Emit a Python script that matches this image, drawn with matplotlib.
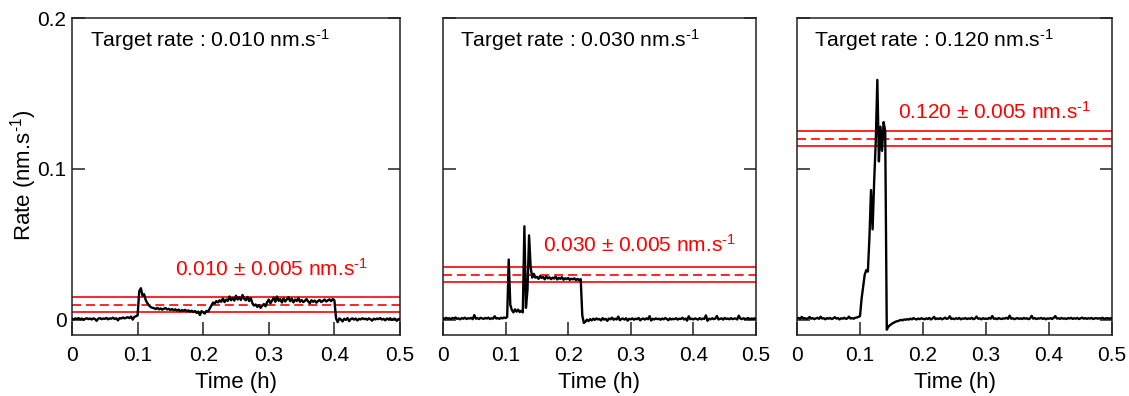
import numpy as np
import matplotlib
matplotlib.use("Agg")
import matplotlib.pyplot as plt

plt.rcParams['font.family'] = ['Liberation Sans', 'DejaVu Sans']
plt.rcParams['mathtext.fontset'] = 'custom'
plt.rcParams['mathtext.rm'] = 'Liberation Sans'
plt.rcParams['mathtext.it'] = 'Liberation Sans'
plt.rcParams['mathtext.bf'] = 'Liberation Sans:bold'
plt.rcParams['mathtext.sf'] = 'Liberation Sans'
plt.rcParams['lines.scale_dashes'] = False

# ---------------- data (rates in 1e-3 nm/s, sampled every 0.0025 h) ----------------
dt_h = 0.0025

rate1_milli = [
    0.8, 0.3, 1.0, 0.6, 1.2, 0.4, 0.9, 0.2, 0.7, 1.1,
    0.5, 0.9, 0.3, 1.0, 0.6, -0.6, 0.8, 1.2, 0.5, 0.9,
    0.7, 1.3, 0.4, 1.0, 0.8, 1.5, 0.6, 1.1, -0.3, 1.2,
    0.9, 1.6, 1.0, 1.4, 1.8, 1.2, 2.2, 0.2, 2.0, 2.4,
    3.0, 19.0, 21.0, 16.0, 17.0, 13.0, 11.0, 9.5, 8.5, 8.0,
    7.8, 7.2, 8.0, 7.0, 7.6, 6.8, 7.4, 7.9, 6.9, 7.3,
    6.6, 7.2, 6.4, 7.0, 6.2, 6.8, 5.8, 6.5, 6.0, 6.7,
    5.6, 6.3, 5.4, 6.1, 5.2, 5.9, 4.6, 5.5, 3.2, 5.8,
    5.0, 4.2, 6.0, 5.5, 7.5, 9.5, 11.5, 10.8, 12.5, 11.6,
    13.0, 12.0, 14.2, 11.8, 13.5, 12.6, 15.5, 13.0, 14.5, 12.8,
    16.0, 13.5, 15.0, 13.2, 16.5, 14.0, 13.0, 15.2, 12.5, 14.5,
    11.0, 9.5, 10.2, 8.6, 9.8, 8.0, 9.4, 10.5, 9.0, 11.8,
    13.5, 11.0, 12.8, 14.8, 12.0, 15.5, 12.6, 13.8, 11.5, 14.2,
    12.2, 13.6, 15.0, 12.4, 14.0, 11.6, 13.5, 12.5, 14.6, 12.0,
    13.2, 11.8, 12.6, 13.8, 12.2, 11.0, 13.0, 12.0, 12.8, 11.4,
    12.5, 13.2, 11.8, 12.6, 13.5, 12.2, 12.9, 13.6, 12.4, 13.8,
    13.0, 1.0, -1.5, 1.0, 0.2, -1.0, 0.8, 0.0, 1.2, -0.8,
    0.6, 1.0, 0.2, 0.9, -0.4, 0.7, 0.3, 1.1, 0.5, 0.8,
    0.1, 1.0, 0.4, -0.5, 0.8, 0.3, 0.9, 0.5, 1.2, 0.2,
    0.7, -0.3, 0.9, 0.4, 1.1, 0.0, 0.6, 0.8, -0.6, 0.5,
    0.7,
]

rate2_milli = [
    1.2, 0.6, 1.4, 0.8, 1.1, 0.5, 1.3, 0.9, 1.6, 0.7,
    1.0, 0.4, 1.2, 0.8, 1.5, 0.6, 1.1, 0.9, 1.3, 0.5,
    3.2, 0.8, 1.2, 0.6, 1.4, 1.0, 0.7, 1.3, 0.9, 1.5,
    0.6, 1.1, 0.8, 2.4, 0.9, 1.2, 0.7, 1.4, 1.0, 1.6,
    1.2, 2.0, 40.0, 10.0, 6.5, 5.0, 7.0, 5.5, 6.8, 5.2,
    6.0, 5.0, 62.0, 8.0, 20.0, 56.0, 35.0, 28.0, 30.5, 28.0,
    28.5, 27.2, 29.0, 27.8, 28.4, 26.9, 28.8, 27.5, 28.2, 27.0,
    28.0, 27.4, 28.6, 26.8, 27.9, 27.2, 28.3, 26.6, 27.6, 27.0,
    27.8, 26.5, 27.3, 26.9, 27.5, 26.4, 27.2, 26.2, 27.0, 3.0,
    -2.0, -1.2, 0.2, -0.8, 0.5, -0.3, 0.8, 0.0, 1.0, 0.3,
    0.6, -0.4, 1.2, 0.2, 0.7, -0.6, 0.9, 0.4, 1.5, 0.1,
    0.8, 0.3, 2.2, -0.2, 0.6, 0.9, 0.2, 1.1, -0.5, 0.7,
    0.4, 1.0, 0.1, 0.8, 0.5, 1.3, -0.3, 0.6, 0.9, 0.2,
    1.1, 0.4, 2.5, -0.4, 0.7, 0.3, 1.0, 0.5, 0.8, 0.1,
    0.9, 0.4, 1.2, 0.6, -0.2, 1.0, 0.3, 0.7, 0.5, 1.1,
    0.2, 0.8, 0.6, 1.4, 0.3, 0.9, -0.5, 2.4, 0.5, 0.8,
    0.3, 1.0, 0.6, 0.2, 1.2, 0.4, 0.9, 0.7, 3.0, -0.6,
    0.8, 0.4, 1.1, 0.5, 0.9, 2.6, 0.3, 0.7, 1.0, 0.2,
    1.3, 0.6, 0.9, 0.4, 1.2, 0.5, 0.8, 1.0, 0.3, 2.8,
    0.9, 0.5, 1.1, 0.6, 0.8, 1.2, 0.4, 0.9, 0.7, 1.0,
    0.6,
]

rate3_milli = [
    1.0, 1.3, 0.7, 2.0, 0.9, 1.2, 0.6, 1.1, 1.9, 0.8,
    1.2, 0.5, 1.0, 1.4, 0.7, 2.1, 0.9, 1.1, 0.4, 1.2,
    0.8, 1.3, 0.6, 1.0, 1.8, 0.9, 1.2, 0.3, 1.1, 0.8,
    1.4, 0.7, 1.0, 2.2, 0.9, 1.2, 0.8, 1.4, 1.6, 2.0,
    2.5, 14.0, 22.0, 30.0, 33.0, 32.0, 55.0, 86.0, 60.0, 92.0,
    118.0, 159.0, 105.0, 128.0, 112.0, 131.0, 125.0, -6.5, -4.5, -3.5,
    -2.8, -2.0, -1.6, -1.0, -0.8, -0.4, 0.0, -0.3, 0.3, 0.1,
    0.5, 0.2, 0.8, 0.4, 1.2, 0.6, 0.3, 0.9, 0.5, 1.1,
    0.7, 0.4, 1.0, 0.6, 1.3, 0.3, 0.9, 2.0, 0.5, 1.0,
    0.6, 1.2, 0.4, 0.8, 1.5, 0.7, 1.0, 2.4, 0.6, 0.9,
    0.5, 1.1, 0.7, 1.3, 0.4, 0.9, 0.8, 1.2, 0.6, 1.0,
    0.7, 1.4, 0.5, 0.9, 2.2, 0.8, 1.0, 0.4, 1.1, 0.7,
    0.9, 0.6, 1.3, 0.8, 2.6, 0.7, 1.0, 0.5, 1.2, 0.8,
    0.6, 1.0, 0.9, 1.4, 0.7, 2.8, 0.8, 1.1, 0.5, 0.9,
    1.2, 0.7, 1.0, 0.6, 1.3, 0.8, 1.1, 0.5, 1.0, 2.7,
    0.8, 1.2, 0.6, 1.0, 0.9, 1.3, 0.7, 1.1, 0.4, 1.0,
    0.8, 1.2, 0.6, 1.4, 2.5, 0.9, 1.1, 0.7, 1.3, 0.8,
    1.0, 0.6, 1.2, 0.9, 1.4, 0.7, 1.1, 0.8, 1.3, 0.6,
    1.0, 1.5, 0.8, 1.2, 0.7, 1.1, 0.9, 1.3, 0.6, 1.0,
    1.2, 0.8, 1.1, 0.9, 1.4, 0.7, 1.0, 1.2, 0.8, 1.1,
    0.9,
]

target_rates = [0.010, 0.030, 0.120]
tolerance = 0.005
target_labels = ["0.010", "0.030", "0.120"]
band_label_pos = [(0.157, 0.0291), (0.160, 0.0452), (0.161, 0.1329)]

x_ticks = [0, 0.1, 0.2, 0.3, 0.4, 0.5]
x_ticklabels = ["0", "0.1", "0.2", "0.3", "0.4", "0.5"]
y_ticks = [0, 0.1, 0.2]
y_ticklabels = ["0", "0.1", "0.2"]

series = [rate1_milli, rate2_milli, rate3_milli]

UNIT = "nm.s$^{\\mathregular{" + "\u2010" + "1}}$"

# ---------------- figure ----------------
W, H = 1129, 396
fig = plt.figure(figsize=(W / 100, H / 100), dpi=100)

panel_px = [(72, 400), (443, 756), (797, 1112)]
top_px, bot_px = 18, 335

spine_col = "#222222"
red = "#ff0000"

for k, (x0, x1) in enumerate(panel_px):
    ax = fig.add_axes([x0 / W, (H - bot_px) / H, (x1 - x0) / W, (bot_px - top_px) / H])
    r = np.array(series[k]) / 1000.0
    t = np.arange(len(r)) * dt_h

    tr = target_rates[k]
    ax.axhline(tr + tolerance, color=red, lw=1.2, zorder=2)
    ax.axhline(tr - tolerance, color=red, lw=1.2, zorder=2)
    ax.axhline(tr, color=red, lw=1.2, dashes=(6.5, 3.5), zorder=2)

    ax.plot(t, r, color="black", lw=1.7, zorder=3)

    ax.set_xlim(0, 0.5)
    ax.set_ylim(-0.01, 0.2)
    ax.set_xticks(x_ticks)
    ax.set_xticklabels(x_ticklabels)
    ax.set_yticks(y_ticks)
    if k == 0:
        ax.set_yticklabels(y_ticklabels)
        ax.set_ylabel("Rate (" + UNIT + ")", fontsize=16)
        ax.yaxis.set_label_coords(-0.1, 0.505)
    else:
        ax.set_yticklabels([])
    ax.tick_params(axis="x", direction="in", length=9.5, width=1.1, color=spine_col,
                   labelsize=15, pad=8, top=False)
    ax.tick_params(axis="y", direction="in", length=9, width=1.1, color=spine_col,
                   labelsize=15, pad=4, left=True, right=True)
    ax.set_xlabel("Time (h)", fontsize=16, labelpad=5)
    for s in ax.spines.values():
        s.set_linewidth(1.1)
        s.set_color(spine_col)

    ax.text(0.055, 0.9085, "Target rate : " + target_labels[k] + " " + UNIT,
            transform=ax.transAxes, fontsize=15.2, va="baseline", ha="left")
    bx, by = band_label_pos[k]
    ax.text(bx, by, target_labels[k] + " \u00b1 0.005 " + UNIT, color=red,
            fontsize=15, va="baseline", ha="left", zorder=4)

fig.savefig("out.png", dpi=100)
